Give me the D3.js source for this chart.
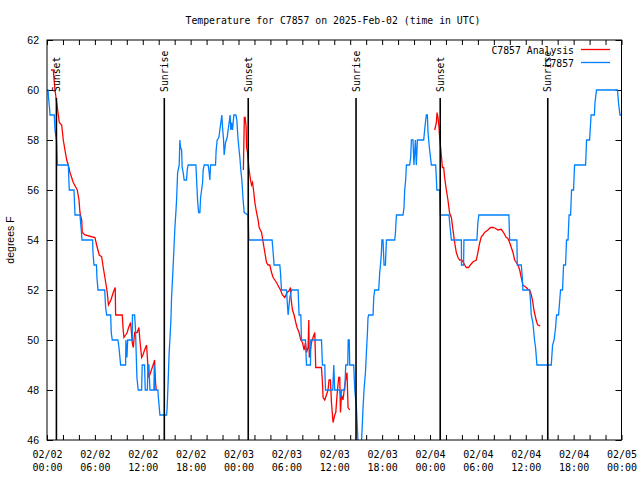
<!DOCTYPE html>
<html><head><meta charset="utf-8">
<script src="https://cdn.jsdelivr.net/npm/d3@7"></script>
<style>body{margin:0;background:#fff} svg{display:block}</style>
</head><body>
<svg id="c" width="640" height="480"></svg>
<script>
// ---- data (hours since 2025-02-02 00:00 UTC) ----
const obsHours = [0.00,0.13,0.19,0.31,0.38,0.91,1.00,1.19,1.29,2.67,2.73,2.79,3.38,3.51,4.13,4.32,4.38,5.72,5.76,5.89,6.20,6.26,6.39,7.23,7.35,7.48,7.98,8.05,8.18,8.89,9.02,9.23,9.85,9.89,10.02,10.11,10.68,10.71,10.98,11.08,11.27,11.43,11.86,11.93,12.23,12.31,12.58,12.65,12.77,12.90,13.40,13.44,13.52,13.90,13.96,14.15,14.99,15.06,15.19,15.31,15.40,15.53,15.61,15.74,15.90,16.03,16.15,16.24,16.37,16.57,16.65,16.74,16.87,16.94,17.07,17.19,17.49,17.57,17.69,18.66,18.75,18.87,19.00,19.16,19.25,19.50,19.57,19.70,20.20,20.32,20.41,20.50,21.12,21.20,21.33,21.54,21.66,21.79,21.91,22.00,22.13,22.20,22.38,22.58,22.70,22.83,22.95,23.04,23.13,23.25,23.42,23.67,23.79,23.95,24.17,24.29,24.42,24.58,24.71,25.21,25.29,28.21,28.34,28.46,29.18,29.26,29.39,30.02,30.09,30.22,30.43,30.64,31.47,31.59,31.81,31.89,32.39,32.52,33.02,33.06,34.40,34.52,34.81,34.90,35.81,35.94,36.06,36.69,36.81,36.94,37.32,37.44,37.69,37.75,37.88,37.94,38.44,38.57,38.78,38.94,39.00,39.36,39.61,39.73,39.91,40.03,40.16,40.23,40.32,40.86,40.95,41.07,41.57,41.70,41.82,41.91,41.98,42.11,42.24,42.41,42.54,43.58,43.67,43.79,44.62,44.74,44.83,44.95,45.04,45.45,45.58,45.67,45.87,45.99,46.17,46.29,46.42,47.21,47.33,47.46,47.55,47.67,47.75,47.92,48.17,48.71,48.79,48.86,49.21,49.30,50.38,50.46,50.68,51.93,51.95,52.21,52.25,53.88,54.00,54.13,57.89,57.98,58.89,58.94,59.44,59.57,59.64,60.48,60.61,60.69,60.89,61.10,61.23,61.40,63.20,63.36,63.55,63.74,63.86,64.11,64.24,64.36,64.61,64.74,64.99,65.11,65.30,65.43,65.62,65.74,65.99,66.12,67.50,67.62,68.00,68.19,68.60,68.68,68.87,71.50,71.62,71.81,71.96];
const obsTemps = [60,60,59.7,59.3,59,59,58.4,58,57,57,56.5,56,56,55,55,54.3,54,54,53.5,53,53,52.5,52,52,51.3,51,51,50.3,50,50,49.7,49,49,50,49.3,50,50,51,51,50.5,48.5,48,48,49,49,48,48,49,49,48,48,49,48,48,47.7,47,47,47.3,48.4,49.5,50,50.8,51.7,52.5,53.6,54.5,55.1,55.6,56.7,57,58,57.7,57.6,56.9,56.7,56.4,56.4,56.8,57,57,56.4,55.6,55.1,55.1,55.7,56.3,56.8,57,57,56.7,56.4,57,57,57.6,58,58.1,58.4,58.7,59,58.5,58,57.4,57.9,58.1,58.4,58.7,59,58.4,58.7,58.4,59,59,58.8,58,57.3,56.8,56.4,55.6,55.1,55,54,54,53.5,53,53,52.7,52,52,51.6,51,51.7,52,52,51,51,50,50,49,49,50,50,49,49,48,48,49,48,48,47.7,48,48,49,49,50,50,49,49,48,47.3,46.2,45.5,45.5,47.3,48,48.7,49.5,50.3,50.9,51,51,51.7,52,52,52.7,53.1,53.5,54,54,53,53,54,54,54.3,55,55,55.3,56,56.4,57,57,57.3,58,58,57,58,57,58,58,58.4,58.8,59,59,58.3,57.7,57,57,56.5,56,56,55,55,54.7,54,54,53,53,54,54,54.7,55,55,54,54,53,53,52.5,52,52,51.5,51,50.7,50,49.7,49,49,49.8,50,50.5,51,51,51.5,52,52,53,53,54,54,55,55,56,56,57,57,58,58,59,59,59.5,60,60,59.5,59,59];
const anaHours = [0.50,0.79,1.00,1.21,1.42,1.54,1.84,2.04,2.25,2.47,2.67,2.88,3.29,3.63,3.79,4.01,4.13,4.35,4.42,4.76,5.60,6.01,6.22,6.55,6.85,7.05,7.26,7.55,7.70,8.01,8.30,8.55,8.60,9.43,9.55,9.64,9.85,10.05,10.23,10.48,10.56,10.68,10.81,10.98,11.31,11.52,11.64,11.73,11.86,12.02,12.23,12.48,12.56,12.65,12.77,12.98,13.19,13.40,13.48,13.60,13.69,
  null,
  24.61,24.73,24.83,24.96,25.01,25.13,25.21,25.33,25.51,25.63,25.76,25.92,26.05,26.26,26.46,26.59,26.89,27.09,27.30,27.51,27.71,27.92,28.14,28.34,28.55,28.76,29.09,29.26,29.51,29.80,30.09,30.34,30.52,30.55,30.64,30.77,30.97,31.18,31.34,31.59,31.81,32.02,32.22,32.39,32.52,32.72,32.81,32.87,33.02,33.14,33.34,33.56,33.68,34.40,34.52,34.60,34.81,35.02,35.22,35.35,35.52,35.65,35.85,36.06,36.19,36.35,36.56,36.69,36.78,36.90,37.10,37.32,37.60,37.73,37.94,
  null,
  48.59,48.80,48.88,49.00,49.13,49.21,49.33,49.42,49.55,49.71,49.83,50.05,50.25,50.46,50.68,50.88,51.09,51.30,51.51,51.72,51.93,52.13,52.35,52.55,52.84,53.06,53.39,53.81,54.00,54.22,54.43,54.63,54.84,55.25,55.59,55.88,56.18,56.51,56.93,57.22,57.55,57.75,57.98,58.19,58.40,58.61,58.82,59.03,59.24,59.44,59.64,59.85,60.07,60.27,60.48,60.61,60.77,60.89,61.02,61.23,61.39,61.52,61.82];
const anaTemps = [60.8,60.8,60.0,59.5,59.0,58.7,58.6,58.0,57.6,57.2,57.0,56.7,56.3,56.1,56.0,55.6,55.1,54.8,54.3,54.2,54.13,54.1,53.8,53.4,53.33,52.9,52.5,51.9,51.4,51.6,51.9,52.1,51.0,51.0,50.4,50.1,50.2,50.3,50.5,50.7,50.4,49.9,49.7,50.3,50.3,50.5,50.0,49.7,49.3,49.4,49.6,49.8,49.4,48.9,48.5,48.7,48.9,49.1,49.2,48.3,48.0,
  null,
  56.8,58.9,58.9,58.5,57.7,57.5,57.2,56.8,56.4,56.2,56.3,55.9,55.5,55.1,54.8,54.5,54.3,53.9,53.5,53.1,53.0,53.0,52.7,52.5,52.4,52.3,52.1,52.0,51.8,51.7,51.9,51.97,52.1,51.8,51.5,51.2,51.0,50.7,50.5,50.3,50.0,49.9,49.6,49.9,49.5,49.7,50.8,49.3,49.6,49.9,50.1,50.3,48.9,48.9,48.3,47.7,47.6,47.8,48.0,48.4,48.4,47.5,46.7,47.0,47.1,47.8,48.5,48.5,47.1,47.8,47.6,48.2,48.7,47.3,47.2,
  null,
  58.4,58.7,59.1,58.9,58.5,58.1,57.7,57.4,56.9,56.9,56.5,56.0,55.6,55.07,54.9,54.4,53.9,53.5,53.3,53.2,53.2,53.13,53.0,52.9,52.9,53.0,53.13,53.2,53.5,53.87,54.13,54.2,54.3,54.4,54.5,54.5,54.47,54.4,54.43,54.3,54.1,54.07,53.9,53.7,53.5,53.2,53.1,53.0,52.8,52.5,52.2,52.15,52.1,52.03,52.0,51.9,51.7,51.5,51.2,50.9,50.7,50.6,50.56];
const sunsetHours = [1.18, 25.22, 49.28];
const sunriseHours = [14.70, 38.73, 62.76];
const yTicks = [46, 48, 50, 52, 54, 56, 58, 60, 62];
const seriesNames = ["C7857 Analysis", "C7857"];
const seriesColors = ["#ff0000", "#0080ff"];
const titleText = "Temperature for C7857 on 2025-Feb-02 (time in UTC)";
const yLabel = "degrees F";

// ---- layout ----
const svg = d3.select("#c");
const L = 47, R = 621.5, T = 40, B = 440;
const mono = "'DejaVu Sans Mono','Liberation Mono',monospace";
const sans = "'Liberation Sans',Arial,sans-serif";
const t0 = Date.UTC(2025, 1, 2, 0, 0);
const hr = h => new Date(t0 + h * 3600e3);
const x = d3.scaleUtc().domain([hr(0), hr(72)]).range([L, R]);
const y = d3.scaleLinear().domain([46, 62]).range([B, T]);

svg.append("rect").attr("width", 640).attr("height", 480).attr("fill", "#fff");
svg.append("defs").append("clipPath").attr("id", "clip")
  .append("rect").attr("x", L).attr("y", T).attr("width", R - L).attr("height", B - T);

// ticks (inward)
const tickEvery2h = d3.utcHour.every(2);
svg.append("g").attr("transform", `translate(0,${B})`)
  .call(d3.axisBottom(x).ticks(tickEvery2h).tickSize(-5).tickFormat(""))
  .call(g => g.select(".domain").remove());
svg.append("g").attr("transform", `translate(0,${T})`)
  .call(d3.axisTop(x).ticks(tickEvery2h).tickSize(-5).tickFormat(""))
  .call(g => g.select(".domain").remove());
svg.append("g").attr("transform", `translate(${L},0)`)
  .call(d3.axisLeft(y).tickValues(yTicks).tickSize(-6).tickPadding(8).tickFormat(d3.format("d")))
  .call(g => g.select(".domain").remove())
  .call(g => g.selectAll("text").attr("font-family", sans).attr("font-size", 10.5).attr("fill", "#000"));
svg.append("g").attr("transform", `translate(${R},0)`)
  .call(d3.axisRight(y).tickValues(yTicks).tickSize(-6).tickFormat(""))
  .call(g => g.select(".domain").remove());

// x labels
const fmtD = d3.utcFormat("%m/%d"), fmtT = d3.utcFormat("%H:%M");
const xl = svg.append("g").attr("transform", `translate(0,${B})`)
  .call(d3.axisBottom(x).ticks(d3.utcHour.every(6)).tickSize(0).tickFormat(""))
  .call(g => g.select(".domain").remove());
xl.selectAll(".tick").each(function(d) {
  const t = d3.select(this).append("text").attr("text-anchor", "middle")
    .attr("font-family", mono).attr("font-size", 10).attr("fill", "#000");
  t.append("tspan").attr("x", 0).attr("y", 18).text(fmtD(d));
  t.append("tspan").attr("x", 0).attr("y", 31).text(fmtT(d));
});

// data lines
const obs = obsHours.map((h, i) => ({ t: hr(h), v: obsTemps[i] }));
const ana = anaHours.map((h, i) => ({ t: h == null ? null : hr(h), v: anaTemps[i] }));
const line = d3.line().defined(d => d.t != null && d.v != null).x(d => x(d.t)).y(d => y(d.v));
const dg = svg.append("g").attr("clip-path", "url(#clip)");
dg.append("path").datum(ana).attr("d", line).attr("fill", "none")
  .attr("stroke", seriesColors[0]).attr("stroke-width", 1.3).attr("stroke-linejoin", "miter");
dg.append("path").datum(obs).attr("d", line).attr("fill", "none")
  .attr("stroke", seriesColors[1]).attr("stroke-width", 1.3).attr("stroke-linejoin", "miter");

// sunrise / sunset markers
const events = sunsetHours.map(h => ({ h, label: "Sunset" }))
  .concat(sunriseHours.map(h => ({ h, label: "Sunrise" })));
const eg = svg.append("g");
events.forEach(e => {
  const px = x(hr(e.h));
  eg.append("line").attr("x1", px).attr("x2", px).attr("y1", B).attr("y2", 98)
    .attr("stroke", "#000").attr("stroke-width", 1.6);
  eg.append("text").attr("transform", `translate(${px},92) rotate(-90)`)
    .attr("dominant-baseline", "central").attr("text-anchor", "start")
    .attr("font-family", mono).attr("font-size", 9.8).attr("fill", "#000").text(e.label);
});

// border
svg.append("rect").attr("x", L).attr("y", T).attr("width", R - L).attr("height", B - T)
  .attr("fill", "none").attr("stroke", "#000").attr("stroke-width", 1);

// title and axis label
svg.append("text").attr("x", 333).attr("y", 24).attr("text-anchor", "middle")
  .attr("font-family", mono).attr("font-size", 9.8).attr("fill", "#000").text(titleText);
svg.append("text").attr("transform", `translate(14,240) rotate(-90)`).attr("text-anchor", "middle")
  .attr("font-family", sans).attr("font-size", 10.5).attr("fill", "#000").text(yLabel);

// legend
const lg = svg.append("g");
seriesNames.forEach((n, i) => {
  const ly = 50 + i * 13;
  lg.append("text").attr("x", 574).attr("y", ly).attr("dominant-baseline", "central")
    .attr("text-anchor", "end").attr("font-family", mono).attr("font-size", 9.8).attr("fill", "#000").text(n);
  lg.append("line").attr("x1", 581).attr("x2", 610).attr("y1", ly - 0.5).attr("y2", ly - 0.5)
    .attr("stroke", seriesColors[i]).attr("stroke-width", 1.3);
});
</script>
</body></html>
